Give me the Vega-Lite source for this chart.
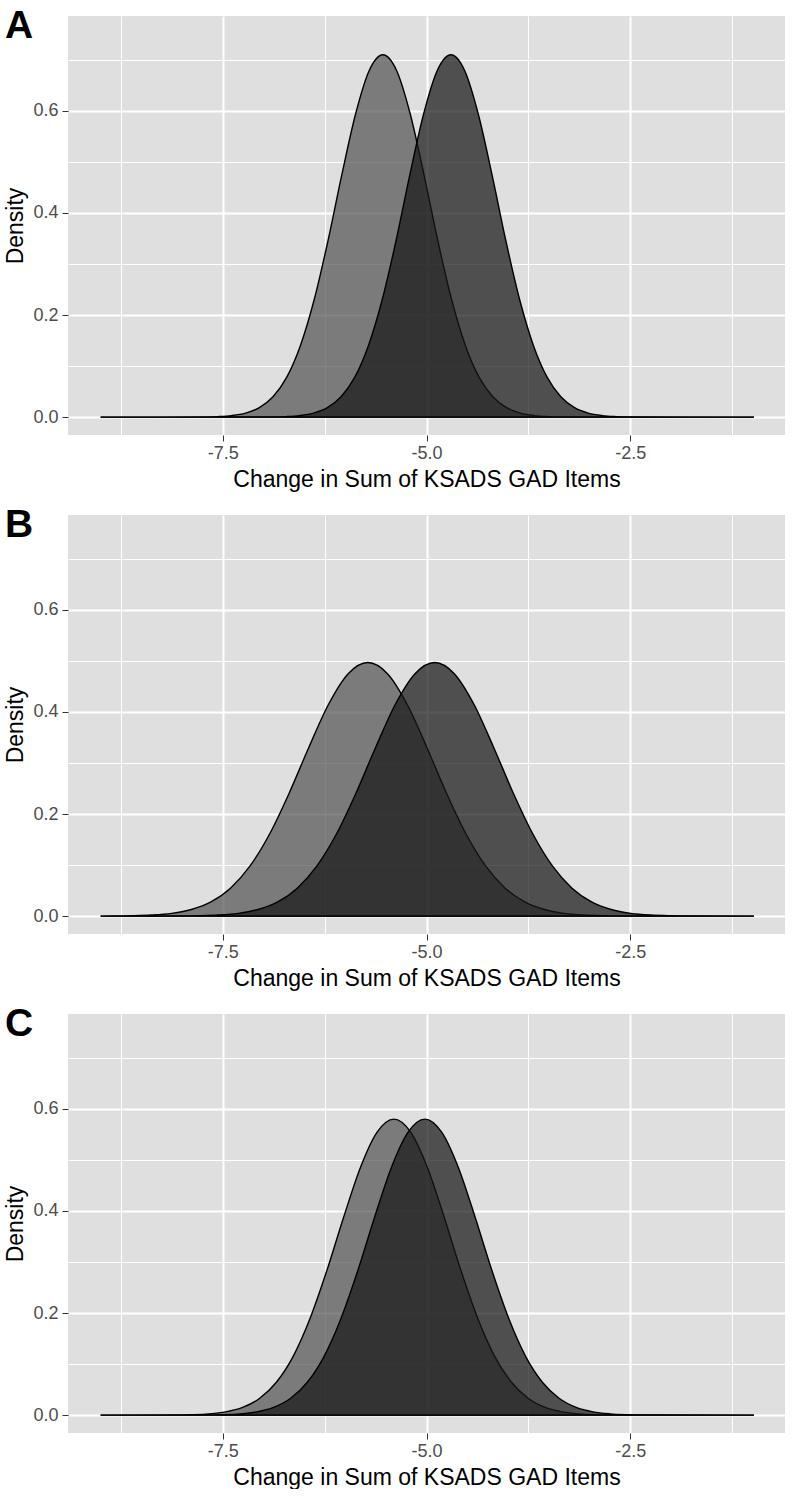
{
  "$schema": "https://vega.github.io/schema/vega-lite/v6.json",
  "background": "white",
  "padding": {"left": 4, "top": 7, "right": 5, "bottom": 0},
  "spacing": 15,
  "config": {
    "font": "Liberation Sans",
    "view": {"fill": "#DFDFDF", "stroke": null},
    "axis": {
      "domain": false, "grid": true, "gridColor": "#FFFFFF", "tickColor": "#333333", "tickSize": 6, "tickWidth": 1,
      "labelColor": "#4D4D4D", "labelFont": "Liberation Sans", "labelFontSize": 18,
      "titleFont": "Liberation Sans", "titleFontSize": 23, "titleFontWeight": "normal", "titleColor": "#000000"
    },
    "axisX": {"labelPadding": 3, "titlePadding": 6},
    "axisY": {"labelPadding": 4, "titlePadding": 5}
  },
  "datasets": {
    "dens": [
      {"panel":"A","group":"light","x":-9.0,"density":0},
      {"panel":"A","group":"light","x":-7.727,"density":0.00035},
      {"panel":"A","group":"light","x":-7.558,"density":0.00109},
      {"panel":"A","group":"light","x":-7.390,"density":0.00307},
      {"panel":"A","group":"light","x":-7.221,"density":0.00789},
      {"panel":"A","group":"light","x":-7.052,"density":0.01855},
      {"panel":"A","group":"light","x":-6.884,"density":0.03985},
      {"panel":"A","group":"light","x":-6.715,"density":0.07828},
      {"panel":"A","group":"light","x":-6.547,"density":0.14051},
      {"panel":"A","group":"light","x":-6.378,"density":0.23050},
      {"panel":"A","group":"light","x":-6.209,"density":0.34559},
      {"panel":"A","group":"light","x":-6.041,"density":0.47356},
      {"panel":"A","group":"light","x":-5.872,"density":0.59304},
      {"panel":"A","group":"light","x":-5.704,"density":0.67876},
      {"panel":"A","group":"light","x":-5.535,"density":0.710},
      {"panel":"A","group":"light","x":-5.366,"density":0.67876},
      {"panel":"A","group":"light","x":-5.198,"density":0.59304},
      {"panel":"A","group":"light","x":-5.029,"density":0.47356},
      {"panel":"A","group":"light","x":-4.861,"density":0.34559},
      {"panel":"A","group":"light","x":-4.692,"density":0.23050},
      {"panel":"A","group":"light","x":-4.523,"density":0.14051},
      {"panel":"A","group":"light","x":-4.355,"density":0.07828},
      {"panel":"A","group":"light","x":-4.186,"density":0.03985},
      {"panel":"A","group":"light","x":-4.018,"density":0.01855},
      {"panel":"A","group":"light","x":-3.849,"density":0.00789},
      {"panel":"A","group":"light","x":-3.680,"density":0.00307},
      {"panel":"A","group":"light","x":-3.512,"density":0.00109},
      {"panel":"A","group":"light","x":-3.343,"density":0.00035},
      {"panel":"A","group":"light","x":-0.98,"density":0},
      {"panel":"A","group":"dark","x":-9.0,"density":0},
      {"panel":"A","group":"dark","x":-6.892,"density":0.00035},
      {"panel":"A","group":"dark","x":-6.723,"density":0.00109},
      {"panel":"A","group":"dark","x":-6.555,"density":0.00307},
      {"panel":"A","group":"dark","x":-6.386,"density":0.00789},
      {"panel":"A","group":"dark","x":-6.217,"density":0.01855},
      {"panel":"A","group":"dark","x":-6.049,"density":0.03985},
      {"panel":"A","group":"dark","x":-5.880,"density":0.07828},
      {"panel":"A","group":"dark","x":-5.712,"density":0.14051},
      {"panel":"A","group":"dark","x":-5.543,"density":0.23050},
      {"panel":"A","group":"dark","x":-5.374,"density":0.34559},
      {"panel":"A","group":"dark","x":-5.206,"density":0.47356},
      {"panel":"A","group":"dark","x":-5.037,"density":0.59304},
      {"panel":"A","group":"dark","x":-4.869,"density":0.67876},
      {"panel":"A","group":"dark","x":-4.700,"density":0.710},
      {"panel":"A","group":"dark","x":-4.531,"density":0.67876},
      {"panel":"A","group":"dark","x":-4.363,"density":0.59304},
      {"panel":"A","group":"dark","x":-4.194,"density":0.47356},
      {"panel":"A","group":"dark","x":-4.026,"density":0.34559},
      {"panel":"A","group":"dark","x":-3.857,"density":0.23050},
      {"panel":"A","group":"dark","x":-3.688,"density":0.14051},
      {"panel":"A","group":"dark","x":-3.520,"density":0.07828},
      {"panel":"A","group":"dark","x":-3.351,"density":0.03985},
      {"panel":"A","group":"dark","x":-3.183,"density":0.01855},
      {"panel":"A","group":"dark","x":-3.014,"density":0.00789},
      {"panel":"A","group":"dark","x":-2.845,"density":0.00307},
      {"panel":"A","group":"dark","x":-2.677,"density":0.00109},
      {"panel":"A","group":"dark","x":-2.508,"density":0.00035},
      {"panel":"A","group":"dark","x":-0.98,"density":0},
      {"panel":"B","group":"light","x":-9.0,"density":0},
      {"panel":"B","group":"light","x":-8.850,"density":0.00025},
      {"panel":"B","group":"light","x":-8.609,"density":0.00076},
      {"panel":"B","group":"light","x":-8.369,"density":0.00215},
      {"panel":"B","group":"light","x":-8.128,"density":0.00552},
      {"panel":"B","group":"light","x":-7.887,"density":0.01298},
      {"panel":"B","group":"light","x":-7.646,"density":0.02790},
      {"panel":"B","group":"light","x":-7.406,"density":0.05479},
      {"panel":"B","group":"light","x":-7.165,"density":0.09836},
      {"panel":"B","group":"light","x":-6.924,"density":0.16135},
      {"panel":"B","group":"light","x":-6.683,"density":0.24191},
      {"panel":"B","group":"light","x":-6.442,"density":0.33149},
      {"panel":"B","group":"light","x":-6.202,"density":0.41513},
      {"panel":"B","group":"light","x":-5.961,"density":0.47513},
      {"panel":"B","group":"light","x":-5.720,"density":0.497},
      {"panel":"B","group":"light","x":-5.479,"density":0.47513},
      {"panel":"B","group":"light","x":-5.238,"density":0.41513},
      {"panel":"B","group":"light","x":-4.998,"density":0.33149},
      {"panel":"B","group":"light","x":-4.757,"density":0.24191},
      {"panel":"B","group":"light","x":-4.516,"density":0.16135},
      {"panel":"B","group":"light","x":-4.275,"density":0.09836},
      {"panel":"B","group":"light","x":-4.034,"density":0.05479},
      {"panel":"B","group":"light","x":-3.794,"density":0.02790},
      {"panel":"B","group":"light","x":-3.553,"density":0.01298},
      {"panel":"B","group":"light","x":-3.312,"density":0.00552},
      {"panel":"B","group":"light","x":-3.071,"density":0.00215},
      {"panel":"B","group":"light","x":-2.830,"density":0.00076},
      {"panel":"B","group":"light","x":-2.590,"density":0.00025},
      {"panel":"B","group":"light","x":-0.98,"density":0},
      {"panel":"B","group":"dark","x":-9.0,"density":0},
      {"panel":"B","group":"dark","x":-8.030,"density":0.00025},
      {"panel":"B","group":"dark","x":-7.790,"density":0.00076},
      {"panel":"B","group":"dark","x":-7.549,"density":0.00215},
      {"panel":"B","group":"dark","x":-7.308,"density":0.00552},
      {"panel":"B","group":"dark","x":-7.067,"density":0.01298},
      {"panel":"B","group":"dark","x":-6.826,"density":0.02790},
      {"panel":"B","group":"dark","x":-6.586,"density":0.05479},
      {"panel":"B","group":"dark","x":-6.345,"density":0.09836},
      {"panel":"B","group":"dark","x":-6.104,"density":0.16135},
      {"panel":"B","group":"dark","x":-5.863,"density":0.24191},
      {"panel":"B","group":"dark","x":-5.622,"density":0.33149},
      {"panel":"B","group":"dark","x":-5.382,"density":0.41513},
      {"panel":"B","group":"dark","x":-5.141,"density":0.47513},
      {"panel":"B","group":"dark","x":-4.900,"density":0.497},
      {"panel":"B","group":"dark","x":-4.659,"density":0.47513},
      {"panel":"B","group":"dark","x":-4.418,"density":0.41513},
      {"panel":"B","group":"dark","x":-4.178,"density":0.33149},
      {"panel":"B","group":"dark","x":-3.937,"density":0.24191},
      {"panel":"B","group":"dark","x":-3.696,"density":0.16135},
      {"panel":"B","group":"dark","x":-3.455,"density":0.09836},
      {"panel":"B","group":"dark","x":-3.214,"density":0.05479},
      {"panel":"B","group":"dark","x":-2.974,"density":0.02790},
      {"panel":"B","group":"dark","x":-2.733,"density":0.01298},
      {"panel":"B","group":"dark","x":-2.492,"density":0.00552},
      {"panel":"B","group":"dark","x":-2.251,"density":0.00215},
      {"panel":"B","group":"dark","x":-2.010,"density":0.00076},
      {"panel":"B","group":"dark","x":-1.770,"density":0.00025},
      {"panel":"B","group":"dark","x":-0.98,"density":0},
      {"panel":"C","group":"light","x":-9.0,"density":0},
      {"panel":"C","group":"light","x":-8.083,"density":0.00029},
      {"panel":"C","group":"light","x":-7.876,"density":0.00089},
      {"panel":"C","group":"light","x":-7.670,"density":0.00251},
      {"panel":"C","group":"light","x":-7.464,"density":0.00644},
      {"panel":"C","group":"light","x":-7.257,"density":0.01515},
      {"panel":"C","group":"light","x":-7.051,"density":0.03256},
      {"panel":"C","group":"light","x":-6.845,"density":0.06395},
      {"panel":"C","group":"light","x":-6.638,"density":0.11478},
      {"panel":"C","group":"light","x":-6.432,"density":0.18830},
      {"panel":"C","group":"light","x":-6.225,"density":0.28232},
      {"panel":"C","group":"light","x":-6.019,"density":0.38685},
      {"panel":"C","group":"light","x":-5.813,"density":0.48446},
      {"panel":"C","group":"light","x":-5.606,"density":0.55448},
      {"panel":"C","group":"light","x":-5.400,"density":0.580},
      {"panel":"C","group":"light","x":-5.194,"density":0.55448},
      {"panel":"C","group":"light","x":-4.987,"density":0.48446},
      {"panel":"C","group":"light","x":-4.781,"density":0.38685},
      {"panel":"C","group":"light","x":-4.575,"density":0.28232},
      {"panel":"C","group":"light","x":-4.368,"density":0.18830},
      {"panel":"C","group":"light","x":-4.162,"density":0.11478},
      {"panel":"C","group":"light","x":-3.955,"density":0.06395},
      {"panel":"C","group":"light","x":-3.749,"density":0.03256},
      {"panel":"C","group":"light","x":-3.543,"density":0.01515},
      {"panel":"C","group":"light","x":-3.336,"density":0.00644},
      {"panel":"C","group":"light","x":-3.130,"density":0.00251},
      {"panel":"C","group":"light","x":-2.924,"density":0.00089},
      {"panel":"C","group":"light","x":-2.717,"density":0.00029},
      {"panel":"C","group":"light","x":-0.98,"density":0},
      {"panel":"C","group":"dark","x":-9.0,"density":0},
      {"panel":"C","group":"dark","x":-7.703,"density":0.00029},
      {"panel":"C","group":"dark","x":-7.496,"density":0.00089},
      {"panel":"C","group":"dark","x":-7.290,"density":0.00251},
      {"panel":"C","group":"dark","x":-7.084,"density":0.00644},
      {"panel":"C","group":"dark","x":-6.877,"density":0.01515},
      {"panel":"C","group":"dark","x":-6.671,"density":0.03256},
      {"panel":"C","group":"dark","x":-6.465,"density":0.06395},
      {"panel":"C","group":"dark","x":-6.258,"density":0.11478},
      {"panel":"C","group":"dark","x":-6.052,"density":0.18830},
      {"panel":"C","group":"dark","x":-5.845,"density":0.28232},
      {"panel":"C","group":"dark","x":-5.639,"density":0.38685},
      {"panel":"C","group":"dark","x":-5.433,"density":0.48446},
      {"panel":"C","group":"dark","x":-5.226,"density":0.55448},
      {"panel":"C","group":"dark","x":-5.020,"density":0.580},
      {"panel":"C","group":"dark","x":-4.814,"density":0.55448},
      {"panel":"C","group":"dark","x":-4.607,"density":0.48446},
      {"panel":"C","group":"dark","x":-4.401,"density":0.38685},
      {"panel":"C","group":"dark","x":-4.195,"density":0.28232},
      {"panel":"C","group":"dark","x":-3.988,"density":0.18830},
      {"panel":"C","group":"dark","x":-3.782,"density":0.11478},
      {"panel":"C","group":"dark","x":-3.575,"density":0.06395},
      {"panel":"C","group":"dark","x":-3.369,"density":0.03256},
      {"panel":"C","group":"dark","x":-3.163,"density":0.01515},
      {"panel":"C","group":"dark","x":-2.957,"density":0.00644},
      {"panel":"C","group":"dark","x":-2.750,"density":0.00251},
      {"panel":"C","group":"dark","x":-2.544,"density":0.00089},
      {"panel":"C","group":"dark","x":-2.337,"density":0.00029},
      {"panel":"C","group":"dark","x":-0.98,"density":0}
    ]
  },
  "vconcat": [
    {
      "title": {"text": "A", "anchor": "start", "frame": "bounds", "fontSize": 39, "fontWeight": "bold", "font": "Liberation Sans", "color": "#000000", "baseline": "alphabetic", "offset": -61},
      "width": 717, "height": 419,
      "data": {"name": "dens"},
      "transform": [{"filter": "datum.panel == 'A'"}],
      "encoding": {
        "x": {"field": "x", "type": "quantitative", "scale": {"domain": [-9.4, -0.6], "nice": false, "zero": false},
          "axis": {"title": "Change in Sum of KSADS GAD Items", "values": [-8.75, -7.5, -6.25, -5, -3.75, -2.5, -1.25],
            "labelExpr": "abs(datum.value - round(datum.value/2.5)*2.5) < 0.01 ? replace(format(datum.value, '.1f'), '\u2212', '-') : ''",
            "gridWidth": {"condition": {"test": "abs(datum.value - round(datum.value/2.5)*2.5) < 0.01", "value": 2}, "value": 1},
            "tickOpacity": {"condition": {"test": "abs(datum.value - round(datum.value/2.5)*2.5) < 0.01", "value": 1}, "value": 0}}},
        "y": {"field": "density", "type": "quantitative", "scale": {"domain": [-0.035, 0.786], "nice": false, "zero": false},
          "axis": {"title": "Density", "values": [0, 0.1, 0.2, 0.3, 0.4, 0.5, 0.6, 0.7],
            "labelExpr": "abs(datum.value*10 - round(datum.value*5)*2) < 0.01 ? format(datum.value, '.1f') : ''",
            "gridWidth": {"condition": {"test": "abs(datum.value*10 - round(datum.value*5)*2) < 0.01", "value": 2}, "value": 1},
            "tickOpacity": {"condition": {"test": "abs(datum.value*10 - round(datum.value*5)*2) < 0.01", "value": 1}, "value": 0}}}
      },
      "layer": [
        {"transform": [{"filter": "datum.group == 'light'"}],
         "mark": {"type": "area", "interpolate": "monotone", "fill": "#555555", "fillOpacity": 0.72, "stroke": "#000000", "strokeWidth": 1.4}},
        {"transform": [{"filter": "datum.group == 'dark'"}],
         "mark": {"type": "area", "interpolate": "monotone", "fill": "#171717", "fillOpacity": 0.72, "stroke": "#000000", "strokeWidth": 1.4}}
      ]
    },
    {
      "title": {"text": "B", "anchor": "start", "frame": "bounds", "fontSize": 39, "fontWeight": "bold", "font": "Liberation Sans", "color": "#000000", "baseline": "alphabetic", "offset": -61},
      "width": 717, "height": 419,
      "data": {"name": "dens"},
      "transform": [{"filter": "datum.panel == 'B'"}],
      "encoding": {
        "x": {"field": "x", "type": "quantitative", "scale": {"domain": [-9.4, -0.6], "nice": false, "zero": false},
          "axis": {"title": "Change in Sum of KSADS GAD Items", "values": [-8.75, -7.5, -6.25, -5, -3.75, -2.5, -1.25],
            "labelExpr": "abs(datum.value - round(datum.value/2.5)*2.5) < 0.01 ? replace(format(datum.value, '.1f'), '\u2212', '-') : ''",
            "gridWidth": {"condition": {"test": "abs(datum.value - round(datum.value/2.5)*2.5) < 0.01", "value": 2}, "value": 1},
            "tickOpacity": {"condition": {"test": "abs(datum.value - round(datum.value/2.5)*2.5) < 0.01", "value": 1}, "value": 0}}},
        "y": {"field": "density", "type": "quantitative", "scale": {"domain": [-0.035, 0.786], "nice": false, "zero": false},
          "axis": {"title": "Density", "values": [0, 0.1, 0.2, 0.3, 0.4, 0.5, 0.6, 0.7],
            "labelExpr": "abs(datum.value*10 - round(datum.value*5)*2) < 0.01 ? format(datum.value, '.1f') : ''",
            "gridWidth": {"condition": {"test": "abs(datum.value*10 - round(datum.value*5)*2) < 0.01", "value": 2}, "value": 1},
            "tickOpacity": {"condition": {"test": "abs(datum.value*10 - round(datum.value*5)*2) < 0.01", "value": 1}, "value": 0}}}
      },
      "layer": [
        {"transform": [{"filter": "datum.group == 'light'"}],
         "mark": {"type": "area", "interpolate": "monotone", "fill": "#555555", "fillOpacity": 0.72, "stroke": "#000000", "strokeWidth": 1.4}},
        {"transform": [{"filter": "datum.group == 'dark'"}],
         "mark": {"type": "area", "interpolate": "monotone", "fill": "#171717", "fillOpacity": 0.72, "stroke": "#000000", "strokeWidth": 1.4}}
      ]
    },
    {
      "title": {"text": "C", "anchor": "start", "frame": "bounds", "fontSize": 39, "fontWeight": "bold", "font": "Liberation Sans", "color": "#000000", "baseline": "alphabetic", "offset": -61},
      "width": 717, "height": 419,
      "data": {"name": "dens"},
      "transform": [{"filter": "datum.panel == 'C'"}],
      "encoding": {
        "x": {"field": "x", "type": "quantitative", "scale": {"domain": [-9.4, -0.6], "nice": false, "zero": false},
          "axis": {"title": "Change in Sum of KSADS GAD Items", "values": [-8.75, -7.5, -6.25, -5, -3.75, -2.5, -1.25],
            "labelExpr": "abs(datum.value - round(datum.value/2.5)*2.5) < 0.01 ? replace(format(datum.value, '.1f'), '\u2212', '-') : ''",
            "gridWidth": {"condition": {"test": "abs(datum.value - round(datum.value/2.5)*2.5) < 0.01", "value": 2}, "value": 1},
            "tickOpacity": {"condition": {"test": "abs(datum.value - round(datum.value/2.5)*2.5) < 0.01", "value": 1}, "value": 0}}},
        "y": {"field": "density", "type": "quantitative", "scale": {"domain": [-0.035, 0.786], "nice": false, "zero": false},
          "axis": {"title": "Density", "values": [0, 0.1, 0.2, 0.3, 0.4, 0.5, 0.6, 0.7],
            "labelExpr": "abs(datum.value*10 - round(datum.value*5)*2) < 0.01 ? format(datum.value, '.1f') : ''",
            "gridWidth": {"condition": {"test": "abs(datum.value*10 - round(datum.value*5)*2) < 0.01", "value": 2}, "value": 1},
            "tickOpacity": {"condition": {"test": "abs(datum.value*10 - round(datum.value*5)*2) < 0.01", "value": 1}, "value": 0}}}
      },
      "layer": [
        {"transform": [{"filter": "datum.group == 'light'"}],
         "mark": {"type": "area", "interpolate": "monotone", "fill": "#555555", "fillOpacity": 0.72, "stroke": "#000000", "strokeWidth": 1.4}},
        {"transform": [{"filter": "datum.group == 'dark'"}],
         "mark": {"type": "area", "interpolate": "monotone", "fill": "#171717", "fillOpacity": 0.72, "stroke": "#000000", "strokeWidth": 1.4}}
      ]
    }
  ]
}
